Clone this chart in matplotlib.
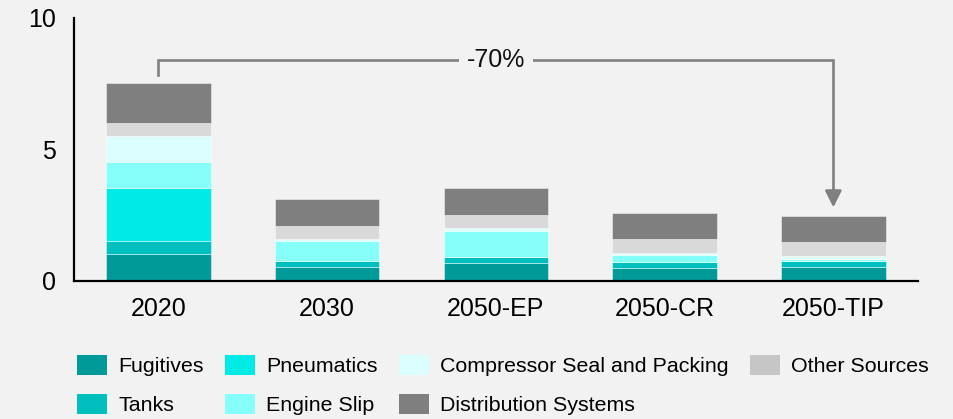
import matplotlib
matplotlib.use("Agg")
import matplotlib.pyplot as plt
import numpy as np
from matplotlib.patches import Patch

plt.rcParams['font.family'] = ['Liberation Sans', 'DejaVu Sans']

# Scenario categories
scenarios = ["2020", "2030", "2050-EP", "2050-CR", "2050-TIP"]

# Emissions by source for each scenario (stacked bottom to top)
fugitives    = [1.00, 0.50, 0.65, 0.48, 0.50]
tanks        = [0.50, 0.23, 0.25, 0.23, 0.23]
pneumatics   = [2.00, 0.00, 0.00, 0.00, 0.00]
engine_slip  = [1.00, 0.76, 0.98, 0.25, 0.10]
compressor   = [1.00, 0.10, 0.10, 0.10, 0.12]
other        = [0.50, 0.50, 0.50, 0.50, 0.50]
distribution = [1.50, 1.00, 1.02, 1.02, 1.00]

reduction_label = "-70%"
y_ticks = [0, 5, 10]

series = [
    ("Fugitives", fugitives, "#009b98", "#009b98"),
    ("Tanks", tanks, "#00bfbf", "#00bfbf"),
    ("Pneumatics", pneumatics, "#00eae6", "#00eae6"),
    ("Engine Slip", engine_slip, "#86fff9", "#86fff9"),
    ("Compressor Seal and Packing", compressor, "#dbffff", "#dbffff"),
    ("Other Sources", other, "#d9d9d9", "#c6c6c6"),
    ("Distribution Systems", distribution, "#7f7f7f", "#7f7f7f"),
]
# legend fills column by column
legend_order = ["Fugitives", "Tanks", "Pneumatics", "Engine Slip",
                "Compressor Seal and Packing", "Distribution Systems",
                "Other Sources"]

bg = "#f2f2f2"
fig = plt.figure(figsize=(9.54, 4.19), dpi=100, facecolor=bg)
ax = fig.add_axes([0.0776, 0.3305, 0.8844, 0.6277], facecolor=bg)

x = np.arange(len(scenarios))
bottom = np.zeros(len(scenarios))
handles = {}
for name, vals, col, legcol in series:
    vals = np.array(vals)
    ax.bar(x, vals, width=0.62, bottom=bottom, color=col,
           edgecolor=(1, 1, 1, 0.45), linewidth=0.7, zorder=2)
    bottom += vals
    handles[name] = Patch(facecolor=legcol, edgecolor='none', label=name)
totals = bottom

ax.set_xlim(-0.5, 4.5)
ax.set_ylim(0, 10)
ax.set_xticks(x)
ax.set_xticklabels(scenarios)
ax.set_yticks(y_ticks)
ax.tick_params(axis='both', length=0, labelsize=18, colors='black')
ax.tick_params(axis='x', pad=12)
ax.tick_params(axis='y', pad=13)
for s in ("top", "right"):
    ax.spines[s].set_visible(False)
for s in ("left", "bottom"):
    ax.spines[s].set_linewidth(1.6)
    ax.spines[s].set_color("black")

# Reduction bracket from the first to the last scenario
gray = "#808080"
y_top = 8.38
x0, x1 = x[0], x[-1]
ax.plot([x0, x0, x1, x1], [totals[0] + 0.3, y_top, y_top, totals[-1] + 0.9],
        color=gray, lw=1.9, solid_joinstyle='miter', zorder=3)
ax.annotate("", xy=(x1, totals[-1] + 0.33), xytext=(x1, totals[-1] + 1.0),
            arrowprops=dict(arrowstyle="-|>,head_length=1.0,head_width=0.5",
                            color=gray, lw=1.9, shrinkA=0, shrinkB=0), zorder=3)
ax.text((x0 + x1) / 2, y_top, reduction_label, ha='center', va='center',
        fontsize=18, color='#111111', zorder=4,
        bbox=dict(boxstyle='square,pad=0.3', fc=bg, ec='none'))

leg = fig.legend(handles=[handles[n] for n in legend_order], ncol=4,
                 loc='upper left', bbox_to_anchor=(0.0805, 0.152),
                 frameon=False, fontsize=15.4,
                 handlelength=1.40, handleheight=1.03, handletextpad=0.55,
                 columnspacing=0.97, labelspacing=0.82, borderaxespad=0,
                 borderpad=0)

fig.savefig("out.png", dpi=100, facecolor=bg)
